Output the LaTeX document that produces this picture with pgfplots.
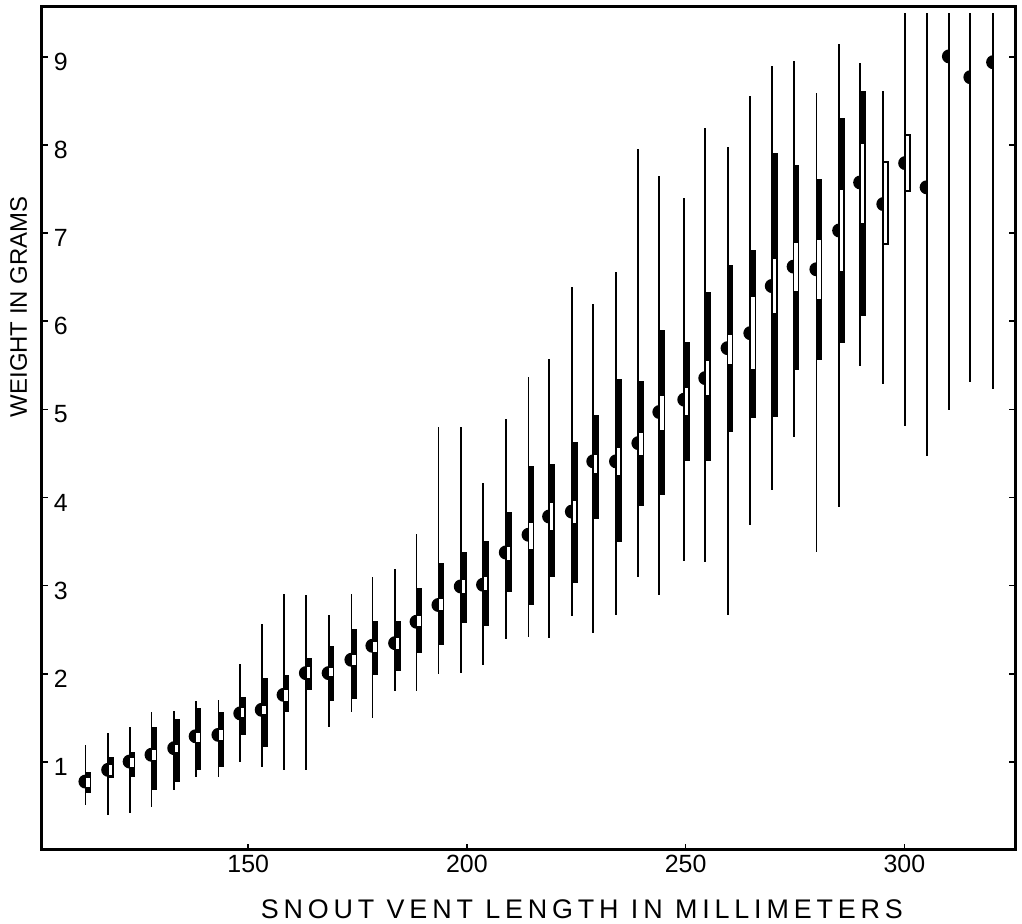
\documentclass[border=0pt]{standalone}
\usepackage{pgfplots}
\pgfplotsset{compat=1.18}
\usepackage{pgfplotstable}
\usepackage{fontspec}
\setmainfont{Liberation Sans}
\newfontfamily\xlabfont[LetterSpace=18]{Liberation Sans}

\pgfdeclareplotmark{leftdisk}{%
  \pgfpathmoveto{\pgfqpoint{0pt}{\pgfplotmarksize}}%
  \pgfpatharc{90}{270}{\pgfplotmarksize}%
  \pgfpathlineto{\pgfqpoint{0pt}{\pgfplotmarksize}}%
  \pgfusepathqfill}

% x = snout-vent length class, range min/max, mean
\pgfplotstableread{
x     min    max    mean
112.8 0.51   1.19   0.776
118.0 0.40   1.33   0.909
122.9 0.42   1.39   1.003
127.9 0.49   1.56   1.08
133.1 0.68   1.58   1.155
138.0 0.833  1.696  1.29
143.2 0.833  1.70   1.306
148.2 1.003  2.11   1.55
153.1 0.947  2.566  1.59
158.1 0.909  2.907  1.76
163.2 0.909  2.895  2.007
168.4 1.40   2.67   2.007
173.6 1.57   2.90   2.158
178.4 1.496  3.10   2.317
183.6 1.80   3.19   2.347
188.5 1.80   3.588  2.59
193.5 2.00   4.80   2.78
198.6 2.007  4.80   2.99
203.7 2.10   4.17   3.01
208.9 2.39   4.89   3.376
214.1 2.415  5.37   3.577
218.8 2.40   5.57   3.784
224.0 2.657  6.39   3.84
228.9 2.46   6.20   4.41
234.1 2.67   6.554  4.41
239.2 3.10   7.96   4.617
244.0 2.896  7.65   4.97
249.7 3.28   7.40   5.11
254.5 3.27   8.19   5.355
259.6 2.67   7.98   5.695
264.8 3.69   8.56   5.865
269.7 4.08   8.90   6.40
274.7 4.69   8.95   6.62
279.9 3.376  8.59   6.59
285.1 3.89   9.145  7.03
289.9 5.49   8.93   7.575
295.2 5.29   8.61   7.33
300.2 4.806  9.50   7.795
305.1 4.47   9.50   7.52
310.2 4.99   9.50   9.006
315.1 5.305  9.50   8.77
320.3 5.23   9.50   8.94
}\rangedata

% black bar (standard deviation, or outline of box) and white box (standard error)
\pgfplotstableread{
x     blo    bhi    selo   sehi
112.8 0.645  0.89   0.72   0.815
118.0 0.815  1.06   0.85   0.96
122.9 0.833  1.106  0.947  1.04
127.9 0.68   1.40   1.02   1.136
133.1 0.776  1.485  1.106  1.19
138.0 0.909  1.61   1.23   1.33
143.2 0.947  1.57   1.25   1.36
148.2 1.306  1.74   1.51   1.61
153.1 1.17   1.95   1.545  1.63
158.1 1.57   1.99   1.685  1.82
163.2 1.82   2.18   1.95   2.08
168.4 1.685  2.32   1.97   2.06
173.6 1.71   2.506  2.10   2.21
178.4 1.99   2.60   2.25   2.365
183.6 2.036  2.60   2.28   2.40
188.5 2.24   2.97   2.536  2.657
193.5 2.33   3.255  2.72   2.85
198.6 2.58   3.376  2.915  3.06
203.7 2.54   3.51   2.95   3.10
208.9 2.93   3.84   3.29   3.44
214.1 2.78   4.36   3.41   3.716
218.8 3.10   4.38   3.63   3.94
224.0 3.035  4.635  3.71   3.955
228.9 3.755  4.94   4.277  4.485
234.1 3.50   5.34   4.26   4.56
239.2 3.90   5.317  4.485  4.73
244.0 4.03   5.90   4.77   5.15
249.7 4.417  5.77   4.94   5.24
254.5 4.41   6.33   5.166  5.544
259.6 4.747  6.64   5.517  5.846
264.8 4.90   6.81   5.457  6.27
269.7 4.91   7.91   6.09   6.706
274.7 5.45   7.77   6.34   6.89
279.9 5.56   7.61   6.25   6.92
285.1 5.75   8.31   6.565  7.485
289.9 6.06   8.61   7.11   8.015
295.2 6.86   7.82   6.885  7.80
300.2 7.47   8.125  7.495  8.105
}\boxdata

\begin{document}
\begin{tikzpicture}
\begin{axis}[name=ax, scale only axis, width=486.5bp, height=421.5bp,
  xmin=102.8, xmax=325.3, ymin=0, ymax=9.57,
  xtick={150,200,250,300}, ytick={1,2,3,4,5,6,7,8,9},
  xtick pos=lower, ytick pos=both, yticklabel pos=left,
  tick align=inside, major tick length=3bp,
  tick style={black, line width=0.8bp},
  axis line style={line width=1.5bp},
  /pgf/number format/assume math mode=true,
  ticklabel style={font=\fontsize{12.5}{14}\selectfont},
  yticklabel style={anchor=west, xshift=2.5bp, yshift=-2.5bp},
  xticklabel style={yshift=1bp},
  xlabel={SNOUT VENT LENGTH IN MILLIMETERS},
  ylabel={WEIGHT IN GRAMS},
  xlabel style={at={(axis description cs:0.555,-0.070)}, anchor=center,
    font=\xlabfont\fontsize{13.5}{15}\selectfont},
  ylabel style={at={(axis description cs:-0.0236,0.644)}, anchor=center,
    font=\fontsize{12}{14}\selectfont},
]
% ranges
\addplot[draw=none, mark=none, forget plot,
  error bars/.cd, y dir=both, y explicit, error mark=none,
  error bar style={line width=0.9bp, draw=black}]
  table[x=x, y expr={(\thisrow{min}+\thisrow{max})/2},
        y error expr={(\thisrow{max}-\thisrow{min})/2}] {\rangedata};
% black bars
\addplot[draw=none, mark=none, forget plot,
  error bars/.cd, y dir=both, y explicit, error mark=none,
  error bar style={line width=3.35bp, draw=black}]
  table[x expr={\thisrow{x}+0.56}, y expr={(\thisrow{blo}+\thisrow{bhi})/2},
        y error expr={(\thisrow{bhi}-\thisrow{blo})/2}] {\boxdata};
% white boxes
\addplot[draw=none, mark=none, forget plot,
  error bars/.cd, y dir=both, y explicit, error mark=none,
  error bar style={line width=1.7bp, draw=white}]
  table[x expr={\thisrow{x}+0.56}, y expr={(\thisrow{selo}+\thisrow{sehi})/2},
        y error expr={(\thisrow{sehi}-\thisrow{selo})/2}] {\boxdata};
% means
\addplot[only marks, mark=leftdisk, mark size=3.5bp,
  mark options={fill=black, draw=none}]
  table[x=x, y=mean] {\rangedata};
\end{axis}
\pgfresetboundingbox
\path[use as bounding box] ([shift={(-20.85bp,-37bp)}]ax.south west)
  rectangle ([shift={(3.5bp,3.35bp)}]ax.north east);
\end{tikzpicture}
\end{document}
